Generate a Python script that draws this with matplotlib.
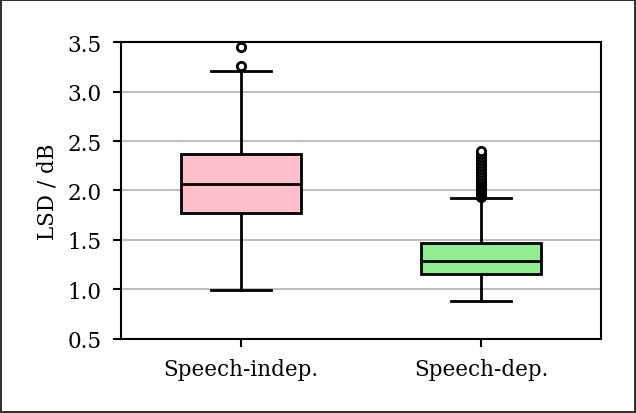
import matplotlib
matplotlib.use("Agg")
import matplotlib.pyplot as plt

categories = ["Speech-indep.", "Speech-dep."]
medians = [2.07, 1.29]
q1s = [1.77, 1.16]
q3s = [2.37, 1.47]
whislos = [0.99, 0.88]
whishis = [3.21, 1.92]
fliers = [
    [3.26, 3.45],
    [1.93, 1.95, 1.97, 1.99, 2.01, 2.03, 2.05, 2.07, 2.09, 2.11, 2.13,
     2.16, 2.19, 2.22, 2.25, 2.28, 2.31, 2.34, 2.37, 2.40],
]
colors = ["pink", "lightgreen"]

plt.rcParams['font.family'] = ['DejaVu Serif']

fig = plt.figure(figsize=(6.36, 4.14), dpi=100)
fig.patch.set_edgecolor('#333333')
fig.patch.set_linewidth(1.5)
ax = fig.add_axes([0.19, 0.179, 0.755, 0.717])

stats = []
for i, c in enumerate(categories):
    stats.append(dict(label=c, med=medians[i], q1=q1s[i], q3=q3s[i],
                      whislo=whislos[i], whishi=whishis[i], fliers=fliers[i]))

bp = ax.bxp(stats, patch_artist=True, widths=0.5,
            boxprops=dict(linewidth=2, edgecolor='black'),
            medianprops=dict(color='black', linewidth=2),
            whiskerprops=dict(color='black', linewidth=2),
            capprops=dict(color='black', linewidth=2),
            flierprops=dict(marker='o', markerfacecolor='white', markeredgecolor='black',
                            markersize=6, markeredgewidth=2))
for patch, col in zip(bp['boxes'], colors):
    patch.set_facecolor(col)

ax.set_xlim(0.5, 2.5)
ax.set_ylim(0.5, 3.5)
ax.set_yticks([0.5, 1.0, 1.5, 2.0, 2.5, 3.0, 3.5])
ax.yaxis.grid(True, color='#c0c0c0', linewidth=1.5)
ax.set_axisbelow(True)
ax.set_ylabel("LSD / dB", fontsize=15.5, labelpad=6)
ax.tick_params(labelsize=15.5, width=1.5, length=6, pad=8)
for s in ax.spines.values():
    s.set_linewidth(1.5)

fig.savefig("out.png", dpi=100, edgecolor=fig.get_edgecolor())
